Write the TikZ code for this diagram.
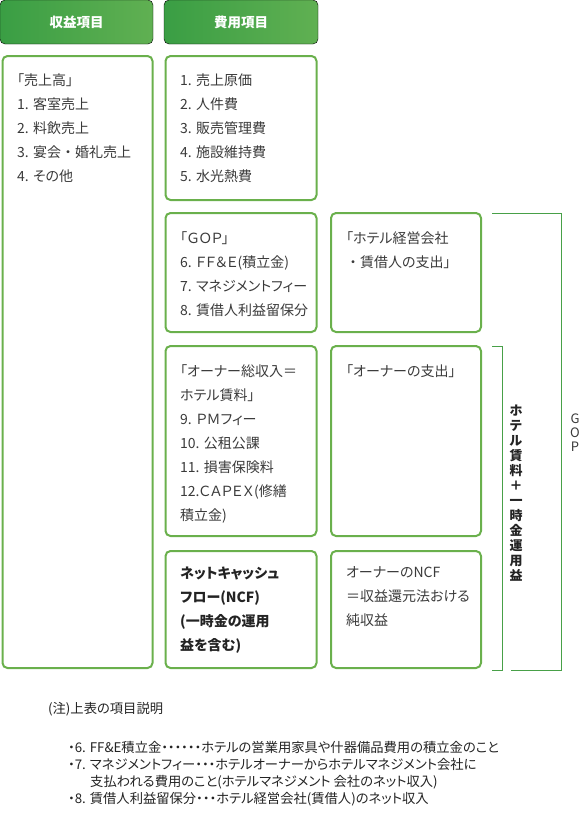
\documentclass[tikz,border=0pt]{standalone}
\usepackage{fontspec}
\setmainfont[RawFeature=+palt]{Noto Sans CJK JP}
\newfontfamily\fullfont{Noto Sans CJK JP}
\newcommand{\fdot}{{\fullfont ・}}
\usetikzlibrary{positioning}

\definecolor{boxgreen}{RGB}{106,176,76}
\definecolor{hdleft}{RGB}{58,158,68}
\definecolor{hdright}{RGB}{96,176,82}
\definecolor{brgreen}{RGB}{72,160,72}
\definecolor{txtgray}{RGB}{58,58,58}
\definecolor{txtdark}{RGB}{35,35,35}

\tikzset{
  itembox/.style={draw=boxgreen, line width=2pt, rounded corners=5pt},
  headbox/.style={rounded corners=5pt, left color=hdleft, right color=hdright},
  headtext/.style={text=white, font=\fontsize{13.5}{16}\selectfont\bfseries},
  itemtext/.style={anchor=north west, align=left, inner sep=0pt, text=txtgray,
    font=\fontsize{14}{24}\selectfont},
  boldtext/.style={itemtext, text=txtdark, font=\fontsize{14}{24}\selectfont\bfseries},
  bracket/.style={draw=brgreen, line width=0.8pt},
  notetext/.style={anchor=north west, align=left, inner sep=0pt, text=txtdark,
    font=\fontsize{13.3}{17}\selectfont}
}

\begin{document}
\begin{tikzpicture}[x=1pt, y=-1pt]
  \useasboundingbox (0,0) rectangle (581,828);

  % headers
  \draw[headbox] (0,0) rectangle (153,44) node[midway, headtext] (hdrev) {収益項目};
  \draw[headbox] (164,0) rectangle (318,44) node[midway, headtext] (hdcost) {費用項目};

  % revenue column
  \draw[itembox] (2.5,56) rectangle (152.5,668);
  \node[itemtext] (rev) at (17,73.5) {「売上高」\\1. 客室売上\\2. 料飲売上\\3. 宴会\fdot 婚礼売上\\4. その他};

  % cost column
  \draw[itembox] (165.5,56) rectangle (316.5,200);
  \node[itemtext] (cost) at (180,73.5) {1. 売上原価\\2. 人件費\\3. 販売管理費\\4. 施設維持費\\5. 水光熱費};

  \draw[itembox] (165.5,213) rectangle (316.5,332);
  \node[itemtext] (gop) at (180,231.5) {「ＧＯＰ」\\6. ＦＦ＆Ｅ(積立金)\\7. マネジメントフィー\\8. 賃借人利益留保分};

  \draw[itembox] (165.5,346) rectangle (316.5,536);
  \node[itemtext] (rent) at (180,364.5) {「オーナー総収入＝\\ホテル賃料」\\9. ＰＭフィー\\10. 公租公課\\11. 損害保険料\\12.ＣＡＰＥＸ(修繕\\積立金)};

  \draw[itembox] (165.5,551) rectangle (316.5,668);
  \node[boldtext] (ncf) at (180,566.5) {ネットキャッシュ\\フロー(NCF)\\(一時金の運用\\益を含む)};

  % payer column
  \draw[itembox] (331,213) rectangle (481,332);
  \node[itemtext] (hotelco) at (346,231.5) {「ホテル経営会社\\\fdot 賃借人の支出」};

  \draw[itembox] (331,346) rectangle (481,536);
  \node[itemtext] (owner) at (346,364.5) {「オーナーの支出」};

  \draw[itembox] (331,551) rectangle (481,668);
  \node[itemtext] (ownerncf) at (346,566.5) {オーナーのNCF\\＝収益還元法おける\\純収益};

  % brackets
  \coordinate (gopA) at (492,213);
  \coordinate (gopC) at (561,670);
  \coordinate (gopB) at (511,670);
  \draw[bracket] (gopA) -| (gopC) -- (gopB);
  \coordinate (rentA) at (492,346);
  \coordinate (rentC) at (502,670);
  \coordinate (rentB) at (492,670);
  \draw[bracket] (rentA) -| (rentC) -- (rentB);

  \node[align=center, inner sep=0pt, text=txtdark, font=\fontsize{13}{15}\selectfont\bfseries]
    (rentlbl) at (516,493) {ホ\\テ\\ル\\賃\\料\\＋\\一\\時\\金\\運\\用\\益};
  \node[align=center, inner sep=0pt, text=txtgray, font=\fontsize{13}{14}\selectfont]
    (goplbl) at (575,433) {G\\O\\P};

  % notes
  \node[notetext] (notehd) at (48,702) {(注)上表の項目説明};
  \node[notetext] (notes) at (68,741) {・6. FF\&E積立金・・・・・・ホテルの営業用家具や什器備品費用の積立金のこと\\
    ・7. マネジメントフィー・・・ホテルオーナーからホテルマネジメント会社に\\
    \hspace{22pt}支払われる費用のこと(ホテルマネジメント 会社のネット収入)\\
    ・8. 賃借人利益留保分・・・ホテル経営会社(賃借人)のネット収入};
\end{tikzpicture}
\end{document}
